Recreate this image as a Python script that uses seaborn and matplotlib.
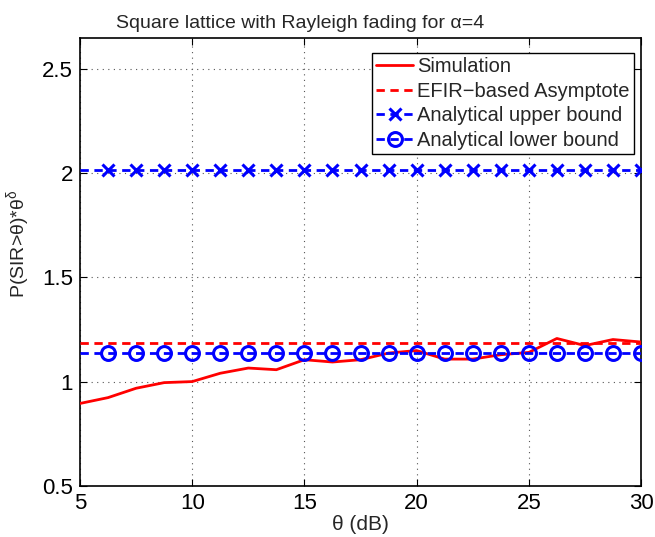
import matplotlib
matplotlib.use("Agg")
import matplotlib.pyplot as plt
import seaborn as sns
import pandas as pd
import numpy as np

# ---- data ----
theta_db = [5, 6.25, 7.5, 8.75, 10, 11.25, 12.5, 13.75, 15, 16.25, 17.5,
            18.75, 20, 21.25, 22.5, 23.75, 25, 26.25, 27.5, 28.75, 30]
simulation = [0.895, 0.923, 0.968, 0.995, 1.0, 1.04, 1.065, 1.057, 1.105, 1.094, 1.105,
              1.137, 1.149, 1.108, 1.108, 1.129, 1.14, 1.207, 1.173, 1.202, 1.19]
asymptote = [1.185] * 21
upper_bound = [2.015] * 21
lower_bound = [1.137] * 21

x_ticks = [5, 10, 15, 20, 25, 30]
y_ticks = [0.5, 1, 1.5, 2, 2.5]

sns.set_style("white")
plt.rcParams['font.family'] = ['Liberation Sans', 'DejaVu Sans']
plt.rcParams['mathtext.fontset'] = 'custom'
plt.rcParams['mathtext.rm'] = 'Liberation Sans'
plt.rcParams['mathtext.it'] = 'Liberation Sans:italic'

fig = plt.figure(figsize=(6.55, 5.37), dpi=100)
ax = fig.add_axes([80 / 655, 1 - 485.7 / 537, (641 - 80) / 655, (485.7 - 38) / 537])

df = pd.DataFrame({"theta": theta_db, "sim": simulation, "asym": asymptote,
                   "up": upper_bound, "low": lower_bound})

lw = 2.0
sns.lineplot(data=df, x="theta", y="sim", ax=ax, color="red", lw=lw,
             label="Simulation", zorder=3)
sns.lineplot(data=df, x="theta", y="asym", ax=ax, color="red", lw=lw,
             label="EFIR\u2212based Asymptote", zorder=3)
sns.lineplot(data=df, x="theta", y="up", ax=ax, color="blue", lw=lw,
             marker="x", markersize=9, markeredgewidth=2.2, markeredgecolor="blue",
             markevery=list(range(1, 21)),
             label="Analytical upper bound", zorder=3)
sns.lineplot(data=df, x="theta", y="low", ax=ax, color="blue", lw=lw,
             marker="o", markersize=10, markeredgewidth=2.2, markerfacecolor="none",
             markeredgecolor="blue", markevery=list(range(1, 21)),
             label="Analytical lower bound", zorder=4)

lines = ax.get_lines()
for ln in lines[1:]:
    ln.set_linestyle((0, (3, 2)))

ax.set_xlim(5, 30)
ax.set_ylim(0.5, 2.65)
ax.set_xticks(x_ticks)
ax.set_xticklabels([str(t) for t in x_ticks])
ax.set_yticks(y_ticks)
ax.set_yticklabels(["0.5", "1", "1.5", "2", "2.5"])
ax.tick_params(direction="in", length=5, width=0.8, labelsize=16, pad=5,
               top=True, right=True, bottom=True, left=True, colors="black")
ax.grid(True, linestyle=(0, (1, 4)), color="#555555", linewidth=0.8)
for s in ax.spines.values():
    s.set_color("black")
    s.set_linewidth(1.2)

ax.set_xlabel("θ (dB)", fontsize=15, labelpad=1)
ax.set_ylabel("P(SIR>θ)*θ$^{\\mathrm{δ}}$", fontsize=14)
ax.yaxis.set_label_coords(-0.085, 0.54)
ax.set_title("Square lattice with Rayleigh fading for α=4", fontsize=14, pad=7,
             x=(300 - 80) / 561)

leg = ax.legend(loc="upper right", bbox_to_anchor=(0.9875, 0.9665), fontsize=14.5,
                frameon=True, fancybox=False, framealpha=1, edgecolor="black",
                borderpad=0.2, labelspacing=0.28, handlelength=1.85, handletextpad=0.2,
                borderaxespad=0)
leg.get_frame().set_linewidth(1.0)

fig.savefig("out.png", dpi=100)
